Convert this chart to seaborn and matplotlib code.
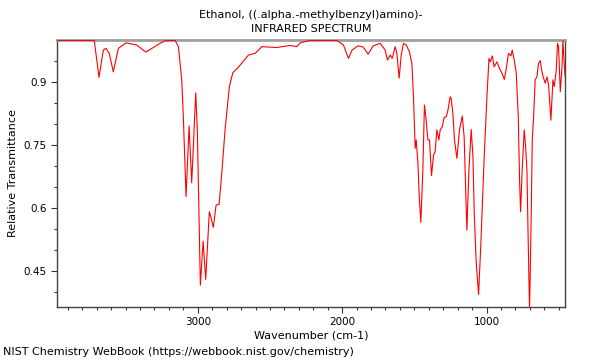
# IR spectrum recreation
import pandas as pd
import matplotlib
matplotlib.use("Agg")
import matplotlib.pyplot as plt
import seaborn as sns
from matplotlib.ticker import MultipleLocator

# Spectrum values
wavenumber = [3975, 3717, 3684, 3654, 3635, 3613, 3585, 3550, 3497, 3423,
              3360, 3261, 3227, 3157, 3134, 3111, 3100, 3081, 3060, 3042,
              3014, 3003, 2982, 2963, 2945, 2920, 2910, 2892, 2873, 2852,
              2834, 2811, 2781, 2757, 2719, 2649, 2603, 2556, 2453, 2360,
              2314, 2291, 2222, 2037, 1991, 1956, 1931, 1889, 1854, 1820,
              1785, 1737, 1702, 1686, 1667, 1653, 1633, 1621, 1605, 1591,
              1575, 1556, 1534, 1517, 1506, 1494, 1487, 1475, 1466, 1455,
              1441, 1430, 1418, 1406, 1395, 1381, 1367, 1356, 1344, 1330,
              1321, 1307, 1293, 1279, 1267, 1252, 1245, 1233, 1222, 1205,
              1187, 1168, 1155, 1146, 1136, 1122, 1106, 1094, 1085, 1071,
              1055, 1039, 1016, 997, 983, 974, 960, 947, 928, 910,
              893, 877, 863, 848, 831, 822, 808, 794, 780, 771,
              764, 753, 739, 730, 720, 711, 702, 692, 683, 674,
              663, 651, 640, 628, 616, 605, 593, 581, 570, 554,
              540, 531, 517, 508, 501, 489, 477, 471, 462, 455]
transmittance = [0.998, 0.998, 0.910, 0.975, 0.979, 0.967, 0.923, 0.979, 0.992, 0.987,
                 0.970, 0.991, 0.997, 0.998, 0.983, 0.904, 0.816, 0.626, 0.794, 0.659,
                 0.873, 0.785, 0.415, 0.520, 0.429, 0.590, 0.578, 0.553, 0.606, 0.608,
                 0.681, 0.785, 0.888, 0.921, 0.934, 0.963, 0.967, 0.983, 0.981, 0.986,
                 0.983, 0.992, 0.998, 0.998, 0.987, 0.955, 0.975, 0.985, 0.982, 0.965,
                 0.985, 0.991, 0.975, 0.951, 0.963, 0.955, 0.983, 0.967, 0.908, 0.963,
                 0.991, 0.987, 0.971, 0.943, 0.864, 0.741, 0.761, 0.705, 0.626, 0.565,
                 0.689, 0.844, 0.808, 0.761, 0.761, 0.676, 0.725, 0.733, 0.785, 0.761,
                 0.785, 0.792, 0.815, 0.816, 0.832, 0.864, 0.860, 0.824, 0.761, 0.717,
                 0.785, 0.818, 0.769, 0.665, 0.546, 0.689, 0.786, 0.721, 0.586, 0.467,
                 0.393, 0.515, 0.721, 0.864, 0.955, 0.947, 0.961, 0.935, 0.947, 0.931,
                 0.920, 0.905, 0.931, 0.967, 0.961, 0.975, 0.951, 0.920, 0.816, 0.665,
                 0.590, 0.689, 0.785, 0.749, 0.689, 0.515, 0.355, 0.546, 0.761, 0.815,
                 0.904, 0.911, 0.943, 0.950, 0.923, 0.908, 0.896, 0.911, 0.892, 0.808,
                 0.904, 0.888, 0.927, 0.991, 0.983, 0.876, 0.935, 0.998, 0.943, 0.911]

title_text = "Ethanol, ((.alpha.-methylbenzyl)amino)-\nINFRARED SPECTRUM"
source_text = "NIST Chemistry WebBook (https://webbook.nist.gov/chemistry)"

df = pd.DataFrame({"wn": wavenumber, "T": transmittance})

sns.set_style("ticks")
plt.rcParams["font.family"] = ["DejaVu Sans"]
plt.rcParams["text.color"] = "black"
plt.rcParams["axes.labelcolor"] = "black"
plt.rcParams["xtick.color"] = "#333"
plt.rcParams["ytick.color"] = "#333"

fig = plt.figure(figsize=(6, 3.6), dpi=100)
ax = fig.add_axes([0.095, 0.147, 0.847, 0.742])

sns.lineplot(data=df, x="wn", y="T", color="red", linewidth=0.8,
             estimator=None, ax=ax, zorder=3)

ax.set_xlim(3975, 455)
ax.set_ylim(0.363, 0.999)

ax.xaxis.set_major_locator(MultipleLocator(1000))
ax.xaxis.set_minor_locator(MultipleLocator(100))
ax.yaxis.set_major_locator(MultipleLocator(0.15))
ax.yaxis.set_minor_locator(MultipleLocator(0.05))
ax.tick_params(which="major", length=4, width=0.8, labelsize=7.5, labelcolor="black")
ax.tick_params(which="minor", length=2.5, width=0.8)
ax.yaxis.set_major_formatter(plt.FuncFormatter(lambda v, p: f"{v:g}"))

for side in ["left", "bottom", "right"]:
    ax.spines[side].set_color("#444")
    ax.spines[side].set_linewidth(1)
ax.spines["top"].set_color("#a0a0a0")
ax.spines["top"].set_linewidth(2)

ax.set_xlabel("Wavenumber (cm-1)", fontsize=8, labelpad=2)
ax.set_ylabel("Relative Transmittance", fontsize=8, labelpad=4)
ax.set_title(title_text, fontsize=8, pad=6, linespacing=1.5)

fig.text(0.005, 0.022, source_text, fontsize=8, va="center", ha="left")

plt.savefig("out.png", dpi=100)
plt.close()
